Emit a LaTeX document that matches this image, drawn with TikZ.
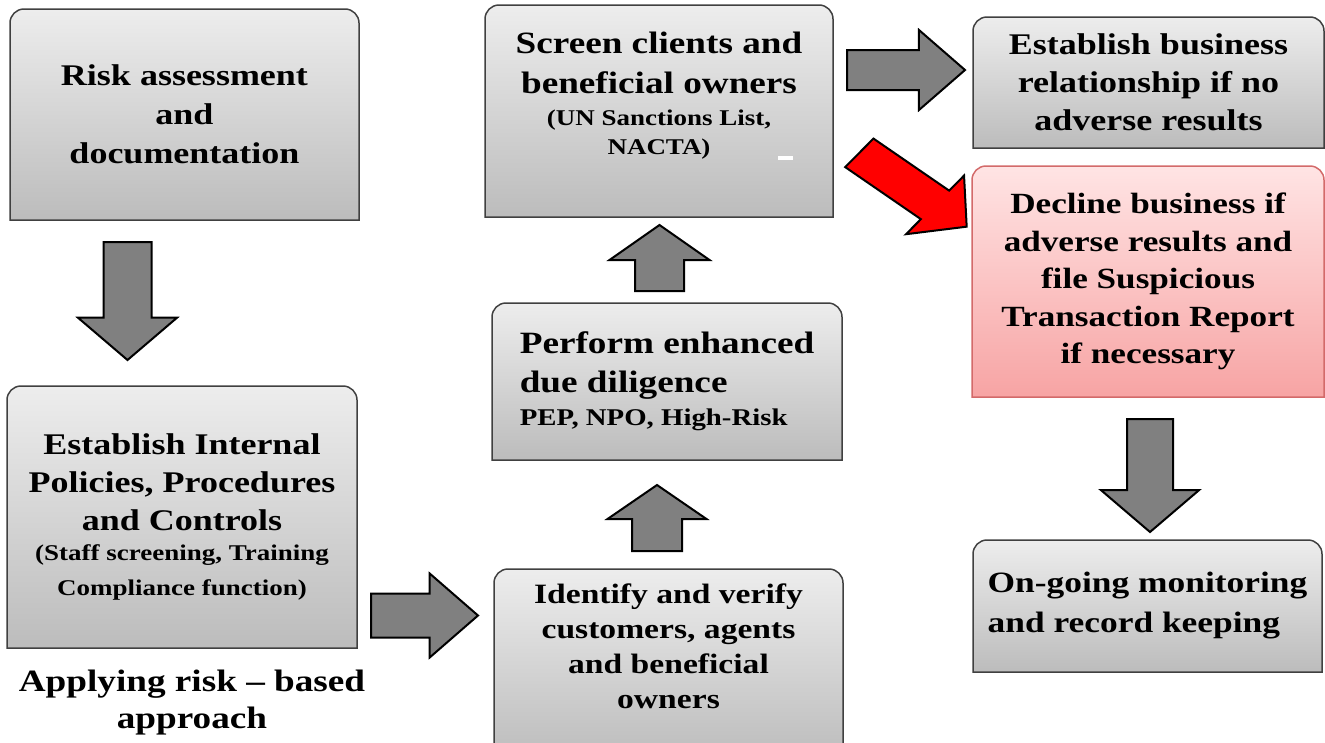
\documentclass[tikz,border=0pt]{standalone}
\usepackage{fontspec}
\setmainfont{Liberation Serif}[FakeStretch=1.2]
\usetikzlibrary{shapes.arrows,calc,backgrounds}

\definecolor{boxtop}{HTML}{EDEDED}
\definecolor{boxbot}{HTML}{BCBCBC}
\definecolor{redtop}{HTML}{FFE4E4}
\definecolor{redbot}{HTML}{F7A4A4}
\definecolor{redline}{HTML}{D36A6A}
\definecolor{arrowgray}{HTML}{808080}

\newcommand\setsize[2]{\bfseries\fontsize{#1}{#2}\selectfont}
\newcommand\subtext[1][22.5]{\fontsize{#1}{28}\selectfont}

\newcommand\roundtop[2]{%
	\path[#2] (#1.south west) -- ([yshift=-14pt]#1.north west)
		arc[start angle=180, end angle=90, radius=14pt] -- ([xshift=-14pt]#1.north east)
		arc[start angle=90, end angle=0, radius=14pt] -- (#1.south east) -- cycle;}

\newcommand\flowarrow[5][1]{%
	\path let \p1 = (#4), \p2 = (#5),
		\n1 = {atan2(\y2-\y1,(\x2-\x1)/#1)}, \n2 = {veclen((\x2-\x1)/#1,\y2-\y1)} in
		node[blockarrow, #3, xscale=#1, rotate=\n1, minimum height=\n2, anchor=tail] (#2) at (#4) {};}

\tikzset{
	box/.style = {rectangle, align=center, inner sep=0pt, outer sep=0pt, text=black, font=\setsize{30}{38}},
	greybox/.style = {draw=black!75, line width=1.5pt, top color=boxtop, bottom color=boxbot},
	redbox/.style = {draw=redline, line width=1.5pt, top color=redtop, bottom color=redbot},
	blockarrow/.style = {single arrow, draw=black, line width=2pt, fill=arrowgray, inner xsep=0pt}
}

\begin{document}
\begin{tikzpicture}[x=1pt,y=1pt]
	\useasboundingbox (0,0) rectangle (1325,-742);

	\node (risk)		at (184.5, -114.5)	[box, minimum width = 349pt, minimum height = 211pt, font = \setsize{30}{39}]	{Risk assessment\\and\\documentation};
	\node (policy)		at (182, -517)		[box, minimum width = 350pt, minimum height = 262pt]	{Establish Internal\\Policies, Procedures\\and Controls\\[-8pt]\subtext (Staff screening, Training\\[-3pt]\subtext Compliance function)};
	\node (rba)		at (192, -703)		[box, font = \setsize{31}{37}]	{Applying risk -- based\\approach};
	\node (screen)		at (659, -111)		[box, minimum width = 348pt, minimum height = 212pt, font = \setsize{31}{40}]	{Screen clients and\\beneficial owners\\[-8pt]\subtext (UN Sanctions List,\\[-11pt]\subtext NACTA)\rule[-36pt]{0pt}{0pt}};
	\node (enhanced)	at (667, -381.5)	[box, align = left, minimum width = 350pt, minimum height = 157pt, font = \setsize{31}{39}]	{Perform enhanced\\due diligence\\[-6pt]\subtext[24]PEP, NPO, High-Risk};
	\node (identify)	at (668.5, -664.5)	[box, minimum width = 349pt, minimum height = 191pt, font = \setsize{28}{35}]	{Identify and verify\\customers, agents\\and beneficial\\owners\rule[-37pt]{0pt}{0pt}};
	\node (establish)	at (1148.5, -82.5)	[box, minimum width = 351pt, minimum height = 131pt]	{Establish business\\relationship if no\\adverse results};
	\node (decline)		at (1148, -281.5)	[box, minimum width = 352pt, minimum height = 231pt, font = \setsize{29.3}{37.5}]	{Decline business if\\adverse results and\\file Suspicious\\Transaction Report\\if necessary};
	\node (monitor)		at (1147.5, -606)	[box, align = left, minimum width = 349pt, minimum height = 132pt, font = \setsize{29.5}{40}]	{On-going monitoring\\and record keeping};

	\begin{scope}[on background layer]
		\roundtop{risk}{greybox}
		\roundtop{policy}{greybox}
		\roundtop{screen}{greybox}
		\roundtop{enhanced}{greybox}
		\roundtop{identify}{greybox}
		\roundtop{establish}{greybox}
		\roundtop{decline}{redbox}
		\roundtop{monitor}{greybox}
	\end{scope}
	\fill[white] (778,-156) rectangle (793,-160);

	\coordinate (rp1) at (127.5, -241);	\coordinate (rp2) at (127.5, -359);
	\coordinate (pi1) at (370, -615.5);	\coordinate (pi2) at (477, -615.5);
	\coordinate (ie1) at (657, -552);	\coordinate (ie2) at (657, -486);
	\coordinate (es1) at (659.5, -292);	\coordinate (es2) at (659.5, -226);
	\coordinate (se1) at (846, -70);	\coordinate (se2) at (964, -70);
	\coordinate (sd1) at (858.4, -152.2);	\coordinate (sd2) at (966, -226.2);
	\coordinate (dm1) at (1150, -418);	\coordinate (dm2) at (1150, -531);

	\flowarrow{riskpolicy}{inner ysep=23pt, single arrow head extend=25.5pt, single arrow tip angle=99}{rp1}{rp2}
	\flowarrow{policyidentify}{inner ysep=21pt, single arrow head extend=20pt, single arrow tip angle=82}{pi1}{pi2}
	\flowarrow{identifyenhanced}{inner ysep=24pt, single arrow head extend=24.5pt, single arrow tip angle=111}{ie1}{ie2}
	\flowarrow{enhancedscreen}{inner ysep=23.5pt, single arrow head extend=25.5pt, single arrow tip angle=110}{es1}{es2}
	\flowarrow{screenestablish}{inner ysep=19pt, single arrow head extend=20pt, single arrow tip angle=82}{se1}{se2}
	\flowarrow[1.2]{screendecline}{fill=red, inner ysep=17.5pt, single arrow head extend=19.5pt, single arrow tip angle=96}{sd1}{sd2}
	\flowarrow{declinemonitor}{inner ysep=22pt, single arrow head extend=26pt, single arrow tip angle=99}{dm1}{dm2}
\end{tikzpicture}
\end{document}
